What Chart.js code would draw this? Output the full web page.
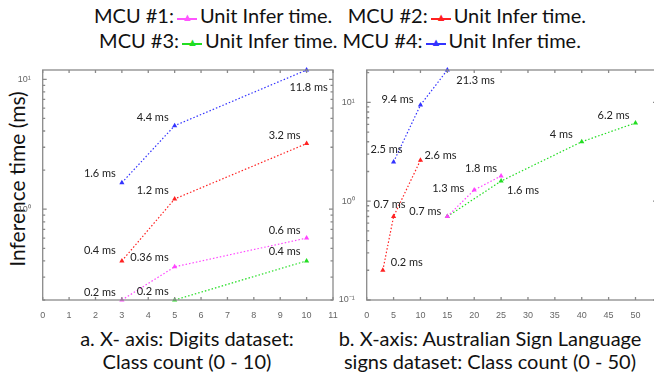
<!DOCTYPE html>
<html>
<head>
<meta charset="utf-8">
<script src="https://cdn.jsdelivr.net/npm/chart.js@4.4.0/dist/chart.umd.min.js"></script>
<style>
  body { margin: 0; width: 654px; height: 376px; overflow: hidden; background: #fff; font-family: Lato, "Open Sans", sans-serif; position: relative; }
  canvas { position: absolute; }
  .legend { position: absolute; left: 0; width: 680px; text-align: center; font-size: 20px; color: #111; white-space: pre; }
  .mk { display: inline-block; position: relative; width: 20px; height: 10px; margin: 0 3px; }
  .mk::before { content: ""; position: absolute; left: 0; right: 0; top: 5px; border-top: 2px solid currentColor; }
  .mk::after { content: "\25B2"; position: absolute; left: 5px; top: -3px; font-size: 11px; }
  .ytitle { position: absolute; left: 16px; top: 179px; transform: translate(-50%, -50%) rotate(-90deg); font-size: 21px; white-space: nowrap; color: #111; }
  .cap { position: absolute; text-align: center; font-size: 20px; line-height: 23px; color: #111; white-space: nowrap; }
</style>
</head>
<body>
<div class="legend" style="top:3px">MCU #1:<span class="mk" style="color:#ff55ff"></span>Unit Infer time.   MCU #2:<span class="mk" style="color:#ff2020"></span>Unit Infer time.</div>
<div class="legend" style="top:28px">MCU #3:<span class="mk" style="color:#22dd22"></span>Unit Infer time. MCU #4:<span class="mk" style="color:#3333ff"></span>Unit Infer time.</div>
<div class="ytitle">Inference time (ms)</div>
<div class="cap" style="left:187px; top:327px; transform:translateX(-50%)">a. X- axis: Digits dataset:<br>Class count (0 - 10)</div>
<div class="cap" style="left:490px; top:327px; transform:translateX(-50%)">b. X-axis: Australian Sign Language<br>signs dataset: Class count (0 - 50)</div>
<canvas id="left" width="345" height="270" style="left:0px; top:60px"></canvas>
<canvas id="right" width="340" height="270" style="left:330px; top:60px"></canvas>
<script>
// a. digits dataset
const digitsClasses = [3, 5, 10];
const digitsMcu1 = [0.2, 0.36, 0.6];
const digitsMcu2 = [0.4, 1.2, 3.2];
const digitsMcu3Classes = [5, 10];
const digitsMcu3 = [0.2, 0.4];
const digitsMcu4 = [1.6, 4.4, 11.8];

// b. australian sign language dataset
const signsMcu1Classes = [15, 20, 25];
const signsMcu1 = [0.7, 1.3, 1.8];
const signsMcu2Classes = [3, 5, 10];
const signsMcu2 = [0.2, 0.7, 2.6];
const signsMcu3Classes = [15, 25, 40, 50];
const signsMcu3 = [0.7, 1.6, 4, 6.2];
const signsMcu4Classes = [5, 10, 15];
const signsMcu4 = [2.5, 9.4, 21.3];

const colors = ['#ff44ff', '#ff2222', '#22dd22', '#3333ff'];

// label placement per point: [align, dx, dy] (null = no label)
const digitsLabelPos = [
  [['right', -6, -8], ['right', -6, -9], ['right', -6, -8]],
  [['right', -6, -10], ['right', -6, -8], ['right', -6, -8]],
  [['right', -6, -9], ['right', -6, -9]],
  [['right', -6, -9], ['right', -6, -8], ['center', 2, 17]]
];
const signsLabelPos = [
  [null, ['right', -10, -2], ['right', -4, -8]],
  [['left', 8, -8], ['center', -4, -12], ['left', 4, -5]],
  [['right', -6, -5], ['left', 6, 9], ['right', -9, -7], ['right', -6, -7]],
  [['center', -7, -12], ['right', -7, -6], ['left', 9, 10]]
];

function pts(xs, ys) {
  return xs.map((x, i) => ({ x: x, y: ys[i] }));
}

function makeSet(xs, ys, i) {
  return {
    data: pts(xs, ys),
    borderColor: colors[i],
    backgroundColor: colors[i],
    borderWidth: 1.2,
    borderDash: [1.5, 2],
    pointStyle: 'triangle',
    pointRadius: 3,
    pointBorderWidth: 0,
    clip: false
  };
}

function isPow10(v) {
  const l = Math.log10(v);
  return Math.abs(l - Math.round(l)) < 1e-9;
}
const sup = { '-': '\u207B', '0': '\u2070', '1': '\u00B9' };
function logLabel(v) {
  if (!isPow10(v)) return '';
  const e = String(Math.round(Math.log10(v)));
  return '10' + e.split('').map(c => sup[c]).join('');
}

const boxPlugin = {
  id: 'box',
  afterDraw(chart, args, opts) {
    const { ctx, chartArea: a, scales } = chart;
    ctx.save();
    ctx.strokeStyle = '#8a8a8a';
    ctx.lineWidth = 1.3;
    ctx.beginPath();
    scales.x.ticks.forEach(t => {
      if (t.value % opts.step !== 0) return;
      const px = scales.x.getPixelForValue(t.value);
      ctx.moveTo(px, a.bottom); ctx.lineTo(px, a.bottom - 3);
      ctx.moveTo(px, a.top); ctx.lineTo(px, a.top + 3);
    });
    const lo = Math.floor(Math.log10(scales.y.min));
    const hi = Math.ceil(Math.log10(scales.y.max));
    for (let d = lo; d <= hi; d++) {
      for (let m = 1; m <= 9; m++) {
        const v = m * Math.pow(10, d);
        if (v < scales.y.min * 0.999 || v > scales.y.max * 1.001) continue;
        const py = scales.y.getPixelForValue(v);
        const len = m === 1 ? 4 : 2.5;
        ctx.moveTo(a.left, py); ctx.lineTo(a.left + len, py);
        ctx.moveTo(a.right, py); ctx.lineTo(a.right - len, py);
      }
    }
    ctx.stroke();
    ctx.strokeRect(a.left, a.top, a.right - a.left, a.bottom - a.top);
    ctx.restore();
  },
  afterDatasetsDraw(chart, args, opts) {
    const { ctx } = chart;
    ctx.save();
    ctx.font = '11px Lato, "Open Sans", sans-serif';
    ctx.fillStyle = '#222';
    ctx.textBaseline = 'middle';
    chart.data.datasets.forEach((ds, i) => {
      const meta = chart.getDatasetMeta(i);
      ds.data.forEach((p, j) => {
        const pos = opts.pos[i][j];
        if (!pos) return;
        const el = meta.data[j];
        ctx.textAlign = pos[0];
        ctx.fillText(p.y + ' ms', el.x + pos[1], el.y + pos[2]);
      });
    });
    ctx.restore();
  }
};

function makeChart(id, sets, xmax, xstep, ymin, ymax, yWidth, pad, labelPos) {
  return new Chart(document.getElementById(id), {
    type: 'line',
    data: { datasets: sets },
    options: {
      responsive: false,
      animation: false,
      layout: { padding: pad },
      plugins: { legend: { display: false }, tooltip: { enabled: false }, box: { pos: labelPos, step: xstep } },
      scales: {
        x: {
          type: 'linear', min: 0, max: xmax,
          grid: { display: false },
          border: { display: false },
          ticks: {
            stepSize: xstep, color: '#666', font: { size: 9, family: 'Liberation Sans' }, padding: 2,
            callback: v => (v % xstep === 0 ? String(v) : '')
          },
          afterFit(s) { s.height = 30; }
        },
        y: {
          type: 'logarithmic', min: ymin, max: ymax,
          grid: { display: false },
          border: { display: false },
          ticks: { autoSkip: false, color: '#666', font: { size: 9, family: 'Liberation Sans' }, padding: 4, callback: v => logLabel(v) },
          afterFit(s) { s.width = yWidth; }
        }
      }
    },
    plugins: [boxPlugin]
  });
}

makeChart('left', [
  makeSet(digitsClasses, digitsMcu1, 0),
  makeSet(digitsClasses, digitsMcu2, 1),
  makeSet(digitsMcu3Classes, digitsMcu3, 2),
  makeSet(digitsClasses, digitsMcu4, 3)
], 11, 1, 0.2, 11.8, 42.7, { top: 10, left: 0, right: 12, bottom: 0 }, digitsLabelPos);

makeChart('right', [
  makeSet(signsMcu1Classes, signsMcu1, 0),
  makeSet(signsMcu2Classes, signsMcu2, 1),
  makeSet(signsMcu3Classes, signsMcu3, 2),
  makeSet(signsMcu4Classes, signsMcu4, 3)
], 54, 5, 0.1, 21.3, 36.7, { top: 10, left: 0, right: 13, bottom: 0 }, signsLabelPos);
</script>
</body>
</html>
